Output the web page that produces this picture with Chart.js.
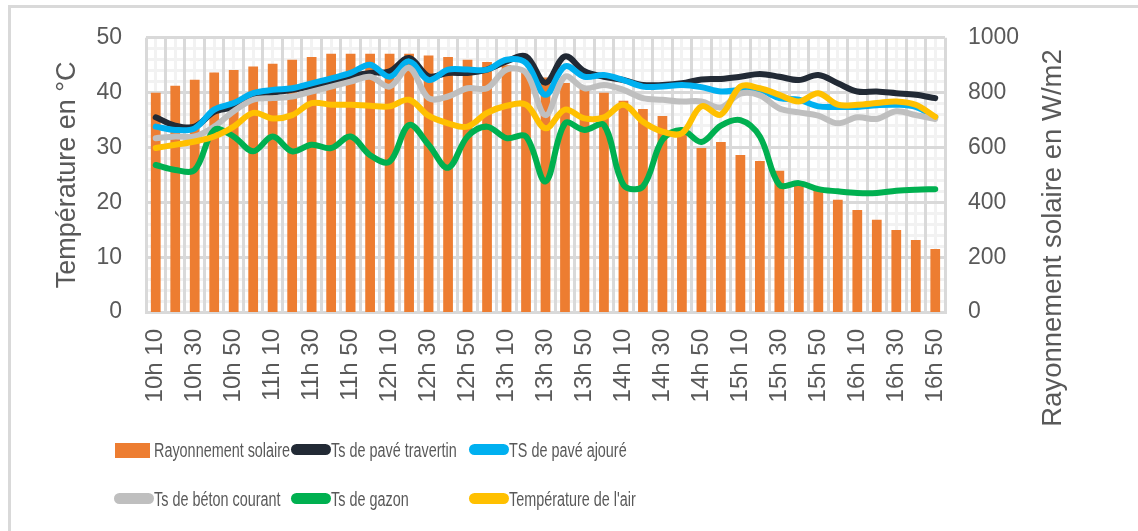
<!DOCTYPE html>
<html>
<head>
<meta charset="utf-8">
<title>Rayonnement et températures de surface</title>
<script src="https://cdn.jsdelivr.net/npm/chart.js@4.4.1/dist/chart.umd.min.js"></script>
<style>
  body { margin: 0; background: #fff; }
  #wrap { position: relative; width: 1138px; height: 531px; overflow: hidden; font-family: "Liberation Sans", Arial, sans-serif; }
  #frame { position: absolute; left: 8px; top: 5px; width: 1200px; height: 600px; border: 3px solid #d9d9d9; box-sizing: border-box; }
  #box { position: absolute; left: 0; top: 0; width: 1138px; height: 531px; }
  .sw { position: absolute; }
  .lbl { position: absolute; font-size: 20px; line-height: 20px; color: #595959; white-space: nowrap;
         transform: scaleX(.72); transform-origin: left center; }
</style>
</head>
<body>
<div id="wrap">
  <div id="frame"></div>
  <div id="box"><canvas id="graph"></canvas></div>
  <div id="legend"></div>
</div>
<script>
// heures de mesure, pas de 10 min
var heures = ['10h 10', '10h 20', '10h 30', '10h 40', '10h 50', '11h 00', '11h 10', '11h 20', '11h 30', '11h 40',
  '11h 50', '12h 00', '12h 10', '12h 20', '12h 30', '12h 40', '12h 50', '13h 00', '13h 10', '13h 20',
  '13h 30', '13h 40', '13h 50', '14h 00', '14h 10', '14h 20', '14h 30', '14h 40', '14h 50', '15h 00',
  '15h 10', '15h 20', '15h 30', '15h 40', '15h 50', '16h 00', '16h 10', '16h 20', '16h 30', '16h 40', '16h 50'];

// W/m2
var rayonnement = [800, 825, 847, 873, 883, 895, 905, 920, 930, 942,
  942, 942, 942, 942, 935, 930, 920, 912, 900, 880,
  855, 835, 815, 800, 770, 740, 715, 650, 598, 620,
  573, 551, 515, 460, 445, 409, 372, 336, 299, 263, 230];

// températures de surface en °C
var travertin = [35.5, 34.0, 33.8, 36.5, 37.4, 39.3, 40.0, 40.5, 41.2, 42.0,
  43.0, 43.6, 43.9, 46.3, 43.0, 43.6, 43.6, 44.2, 45.7, 46.6,
  41.8, 46.6, 43.9, 42.9, 42.3, 41.4, 41.4, 41.7, 42.4, 42.5,
  42.9, 43.4, 42.9, 42.3, 43.2, 41.7, 40.2, 40.2, 39.9, 39.6, 39.0];

var ajoure = [33.8, 33.2, 33.5, 36.9, 38.1, 39.9, 40.5, 40.8, 41.7, 42.6,
  43.6, 45.1, 42.9, 45.7, 42.3, 44.2, 44.2, 44.2, 46.0, 45.4,
  39.6, 44.8, 42.9, 43.2, 42.3, 41.1, 41.1, 41.4, 41.0, 40.2,
  40.5, 40.5, 39.0, 38.7, 37.5, 37.4, 37.4, 37.7, 37.8, 37.4, 35.5];

var beton = [31.7, 32.0, 32.0, 33.8, 36.6, 38.7, 39.0, 39.3, 40.2, 41.1,
  42.0, 42.9, 41.1, 44.5, 39.0, 39.3, 40.8, 40.8, 44.2, 43.6,
  35.9, 42.9, 40.8, 41.4, 40.5, 39.0, 38.7, 38.4, 38.4, 37.3,
  39.8, 39.5, 37.1, 36.4, 35.8, 34.4, 35.5, 35.2, 36.6, 35.9, 35.2];

var gazon = [26.8, 25.9, 25.9, 33.2, 32.0, 29.3, 32.0, 29.3, 30.5, 29.9,
  32.0, 28.6, 27.4, 34.1, 30.5, 26.3, 32.0, 33.8, 31.7, 32.0,
  23.8, 34.4, 33.2, 34.1, 23.2, 22.9, 31.4, 33.2, 31.0, 34.0,
  35.0, 32.0, 23.2, 23.5, 22.4, 22.0, 21.7, 21.7, 22.1, 22.3, 22.4];

var air = [29.9, 30.5, 31.1, 32.0, 33.8, 36.3, 35.3, 35.9, 38.1, 37.8,
  37.8, 37.6, 37.5, 38.7, 35.8, 34.4, 33.8, 36.3, 37.6, 37.8,
  33.5, 36.9, 35.3, 35.5, 37.8, 34.7, 32.9, 32.6, 37.5, 36.0,
  41.1, 40.8, 39.6, 38.4, 39.9, 37.8, 37.8, 38.1, 38.4, 37.8, 35.6];

var ticksTemp = [0, 10, 20, 30, 40, 50];
var ticksRay = [0, 200, 400, 600, 800, 1000];

var police = '"Liberation Sans", Arial, sans-serif';
var gris = '#595959';
var trait = '#d9d9d9';
var traitFin = '#f2f2f2';

function ligne(nom, valeurs, couleur, ordre) {
  return {
    type: 'line', label: nom, data: valeurs, yAxisID: 'y',
    borderColor: couleur, backgroundColor: couleur, borderWidth: 6,
    pointRadius: 0, tension: 0.35, borderCapStyle: 'round', borderJoinStyle: 'round',
    order: ordre
  };
}

// titre de l'axe de droite, lu de bas en haut
var titreDroite = {
  id: 'titreDroite',
  afterDraw: function (chart) {
    var c = chart.ctx;
    c.save();
    c.translate(chart.scales.y1.right - 85, 238);
    c.rotate(-Math.PI / 2);
    c.font = '27.5px ' + police;
    c.fillStyle = gris;
    c.textAlign = 'center';
    c.textBaseline = 'middle';
    c.fillText('Rayonnement solaire en W/m2', 0, 0);
    c.restore();
  }
};

var graph = new Chart(document.getElementById('graph'), {
  type: 'bar',
  data: {
    labels: heures,
    datasets: [
      { type: 'bar', label: 'Rayonnement solaire', data: rayonnement, yAxisID: 'y1',
        backgroundColor: '#ed7d31', barPercentage: 0.5, categoryPercentage: 1, order: 10 },
      ligne('Ts de pavé travertin', travertin, '#222a35', 5),
      ligne('TS de pavé ajouré', ajoure, '#00b0f0', 4),
      ligne('Ts de béton courant', beton, '#bfbfbf', 3),
      ligne('Ts de gazon', gazon, '#00b050', 2),
      ligne('Température de l\'air', air, '#ffc000', 1)
    ]
  },
  options: {
    responsive: true,
    maintainAspectRatio: false,
    animation: false,
    layout: { padding: { top: 37, left: 0, right: 0, bottom: 0 } },
    plugins: { legend: { display: false }, tooltip: { enabled: false } },
    scales: {
      xMin: {
        type: 'category', position: 'bottom', offset: true,
        grid: { offset: false, color: traitFin, lineWidth: 3, drawTicks: false, z: -2 },
        border: { display: false },
        ticks: { display: false },
        afterFit: function (s) { s.height = 0; }
      },
      yMin: {
        type: 'linear', position: 'left', min: 0, max: 50,
        grid: { color: function (c) { return c.tick.value % 10 === 0 ? 'rgba(0,0,0,0)' : traitFin; },
                lineWidth: 3, drawTicks: false, z: -2 },
        border: { display: false },
        ticks: { display: false, stepSize: 2 },
        afterFit: function (s) { s.width = 0; }
      },
      x: {
        type: 'category', position: 'bottom', offset: true,
        grid: { offset: true, color: trait, lineWidth: 3, drawTicks: false },
        border: { color: trait, width: 3 },
        ticks: {
          autoSkip: false, maxRotation: 90, minRotation: 90, padding: 17,
          color: gris, font: { family: police, size: 24 },
          callback: function (v, i) { return i % 2 === 0 ? heures[i] : ''; }
        },
        afterFit: function (s) { s.height = 219; }
      },
      y: {
        type: 'linear', position: 'left', min: 0, max: 50,
        afterBuildTicks: function (s) { s.ticks = ticksTemp.map(function (v) { return { value: v }; }); },
        grid: { color: trait, lineWidth: 3, drawTicks: false },
        border: { display: false },
        ticks: { padding: 24, color: gris, font: { family: police, size: 23 } },
        title: { display: true, text: 'Température en °C', color: gris,
                 font: { family: police, size: 27 }, padding: { top: 51, bottom: 0 } },
        afterFit: function (s) { s.width = 146; }
      },
      y1: {
        type: 'linear', position: 'right', min: 0, max: 1000,
        afterBuildTicks: function (s) { s.ticks = ticksRay.map(function (v) { return { value: v }; }); },
        grid: { display: false, drawTicks: false },
        border: { display: false },
        ticks: { padding: 23, color: gris, font: { family: police, size: 23 },
                 callback: function (v) { return String(v); } },
        afterFit: function (s) { s.width = 193; }
      }
    }
  },
  plugins: [titreDroite]
});

// légende sur deux rangées de trois colonnes
var colonnes = [113, 290, 468];
var rangees = [450, 499];
var legende = document.getElementById('legend');
graph.data.datasets.forEach(function (ds, i) {
  var x = colonnes[i % 3], y = rangees[Math.floor(i / 3)];
  var sw = document.createElement('div');
  sw.className = 'sw';
  if (ds.type === 'bar') {
    sw.style.cssText = 'left:' + (x + 2) + 'px;top:' + (y - 7) + 'px;width:35px;height:15px;background:' + ds.backgroundColor;
  } else {
    sw.style.cssText = 'left:' + (x + 1) + 'px;top:' + (y - 6) + 'px;width:40px;height:11px;border-radius:6px;background:' + ds.borderColor;
  }
  legende.appendChild(sw);
  var t = document.createElement('div');
  t.className = 'lbl';
  t.style.left = (x + 41) + 'px';
  t.style.top = (y - 10) + 'px';
  t.textContent = ds.label;
  legende.appendChild(t);
});
</script>
</body>
</html>
